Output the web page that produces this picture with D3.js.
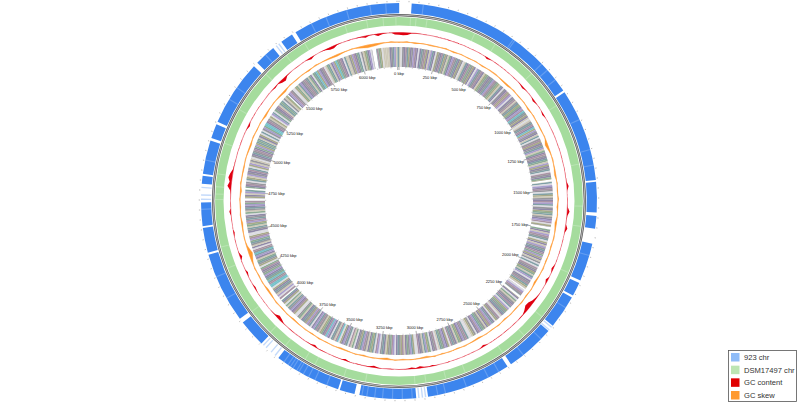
<!DOCTYPE html>
<html><head><meta charset="utf-8">
<script src="https://cdn.jsdelivr.net/npm/d3@7"></script>
<style>html,body{margin:0;background:#fff}svg{display:block}text{font-family:"Liberation Sans",Arial,sans-serif}</style>
</head><body><svg id="c" width="797" height="402"></svg>
<script>
const genomeKbp = 6260;
const tickLabels = [0,250,500,750,1000,1250,1500,1750,2000,2250,2500,2750,3000,3250,3500,3750,4000,4250,4500,4750,5000,5250,5500,5750,6000];
const legendNames = ["923 chr","DSM17497 chr","GC content","GC skew"];
const legendColors = ["#8fbcf8","#bce5b3","#e00000","#ff9a30"];
const blueSegments = [[64,974],[986,1458],[1468,1622],[1640,1704],[1782,1975],[1990,2060],[2072,2243],[2278,2530],[2552,2982],[3043,3330],[3356,3432],[3442,3782],[3895,4035],[4060,4420],[4432,4558],[4568,4687],[4782,4822],[4832,5003],[5018,5090],[5105,5440],[5465,5573],[5626,5690],[5712,6260]];
const blueFaintInGaps = [2992,3008,3026,3800,3826,3860,3878,4700,4722,4760,5590,5606,2250,2268];
const blueLight = [120,610,620,800,842,905,1140,1300,1380,1840,2130,2330,2450,2600,2660,2780,2890,2930,3060,3110,3160,3210,3250,3290,3315,3500,3565,3600,3630,3655,3668,3690,3705,3720,3745,4180,4300,4650,4900,5230,5300,5520,5800,5880,5990,6110,6190];
const greenLight = [60,90,150,420,545,800,1020,1360,1590,1700,1960,2240,2380,2530,2760,2870,2980,3040,3310,3430,3600,3660,3790,3900,4050,4320,4440,4700,4730,4770,4840,5010,5210,5450,5600,5720,5960,6080,6170,6240];
// GC content deviation, one value per 25 kbp
const gcContent = [
-3,-3.5,-3,-.6,-.5,.3,-.4,.2,-.3,.4,-.2,.3,-.6,.2,.4,-.3,.2,-.5,.3,.2,-.4,.3,-2,-.4,.3,
.2,-.3,.4,-.2,.3,-.4,.2,-.6,-2,-.4,.3,-.2,-2.2,-.6,.4,-.3,-2,-.3,.2,-.3,.2,.4,-.3,.2,-.4,
.3,-.2,.4,-.3,.2,-.4,.3,.2,.6,2.4,.3,-.2,.4,.2,.6,3.2,.8,.3,.2,2.8,.4,-.2,.4,-.3,.2,
.3,-.2,.4,-.5,-2.4,-.3,.2,-2.8,-.4,.3,-.2,-.6,-1.6,-3,-5.4,-6,-3,-.8,-.6,.2,-.4,.3,-.2,-.5,.3,
.2,-.6,.3,-.4,-2.4,-.4,.2,-.4,.3,-.6,.2,-.3,.4,-.5,-.3,.2,-.4,-1.6,-.6,-1.2,-2.6,-.8,-2.2,-.6,-.3,
-.4,.2,-.6,-.3,.2,-.8,-2.4,-.8,-.6,-.3,-.5,.2,-.4,-2.2,-.4,-.3,-.5,.2,-.3,-.6,-.4,-2.6,-.5,-.4,.2,
-.4,.3,-.3,-.6,.2,-.4,-2.6,-4,-1,-.5,.2,-.4,.3,-.3,.2,-.6,-1.6,-.3,.2,-.4,-2,.3,-.2,.4,-3,
-.8,.3,-.2,.4,-.3,-1.6,.3,-.2,.4,.2,2,-.4,-.4,.3,.4,1,5,2.6,5,3.4,.8,.4,.3,-.2,.3,
-.4,.2,.3,-.2,.4,-.5,-2.2,-.2,.3,-.4,.2,.3,-.5,.2,-.3,.4,-.3,-1.4,-.4,-3,-4.4,-1,-.5,.2,-.4,
-.3,.2,-.8,-2.4,-.4,.2,-.4,-1,-3,-3.2,-1,-.3,.2,-.4,.3,-.6,-.8,-2.4,-.6,-.4,-2.8,-1.2,-.4,.2,-2.6];
// GC skew deviation, one value per 50 kbp
const gcSkew = [
-.5,.6,-.9,.4,-.8,-.3,.7,-1.2,.4,-.7,.5,-1,.4,.7,-.8,-1.4,.6,-.6,.4,-1.2,.5,-.4,-.7,.4,-2.6,
-.8,.6,-.5,-1.4,.4,-.7,.7,-1.1,.4,-1.6,-.5,.6,-.8,.4,-.7,.7,-.4,-1.4,.4,-.8,.6,-.7,.4,-1,.7,
-.4,.4,-1.2,-.5,.6,-.8,.4,-.7,.7,-1.4,-.4,.4,-.8,.6,-1.6,-.5,.4,-1.1,.6,-.7,-1.2,.4,-.5,.6,-.8,
.4,-.4,-1.1,.4,-.7,.7,-1,-1.4,.4,-.7,.6,-1.2,-3.6,-1,.4,-.5,-1.2,.6,-.7,.4,-1.4,.7,-.4,-.8,.4,
-.7,-1.2,.6,-.5,.4,-1.4,-.4,.4,-.8,-1.6,.6,-.7,.4,-1,.7,-.4,-1.1,-1.6,-.5,.4,-1.2,-2.6,-2,-.5,.6];
// Genes around the chromosome by functional class; each row covers about a tenth of the circle
const geneClasses = [
"560142310741612043157216301423059174021306521490316720415390",
"102740935216014347610450239174820315650241837015260431027591",
"401295731026401935267140623501472601392501746302915740263157",
"021497315062640139527610423516740231695014267390215640361274",
"315092741603566240713951024631709256401693725014663270915430",
"216749035120674623915047230169546207136845026178419350427162",
"473021590663417025963120467502136884089217901496302951728046",
"150297436610259374201695021794663157299140623570142637505601",
"204197329251362607988140536726901452926053917406639527104025",
"916928371046592517389041625503741926053917607249365555102752"
].join("").split("");
const geneColors = {"0":"#97979d","1":"#8f88a8","2":"#80a0a6","3":"#a8aa88","4":"#aa93a5","5":"#cfcaba","6":"#dcdce2","7":"#a99dce","8":"#76c2ca","9":"#8cac94"};
// Gaps between annotated regions on the gene ring, in kbp
const geneGaps = [[6085,6110],[1425,1437],[1735,1752],[2170,2180],[2225,2240],[4700,4708],[4770,4780],[3995,4004],[5450,5458]];

const cx=399, cy=201, TAU=Math.PI*2;
const svg=d3.select("#c");
const g=svg.append("g").attr("transform",`translate(${cx},${cy})`);
const ang=d3.scaleLinear().domain([0,genomeKbp]).range([0,TAU]);
const arc=d3.arc();
const ring=(sel,r0,r1,a0,a1,fill,op)=>sel.append("path")
  .attr("d",arc({innerRadius:r0,outerRadius:r1,startAngle:a0,endAngle:a1}))
  .attr("fill",fill).attr("fill-opacity",op==null?1:op);

// outer ticks
const allTicks=d3.range(0,genomeKbp,50);
const pt=(k,r)=>[r*Math.sin(ang(k)),-r*Math.cos(ang(k))];
allTicks.forEach(k=>{const a=pt(k,199),b=pt(k,200.3);
  g.append("line").attr("x1",a[0]).attr("y1",a[1]).attr("x2",b[0]).attr("y2",b[1]).attr("stroke","#777").attr("stroke-width",.5);});

// query ring
const blueG=g.append("g");
blueSegments.forEach(s=>ring(blueG,187.8,198,ang(s[0]),ang(s[1])+.001,"#3c85ee"));
blueFaintInGaps.forEach(k=>ring(g,187.8,198,ang(k),ang(k+7),"#3c85ee",.3));
blueLight.forEach(k=>ring(g,187.8,198,ang(k),ang(k+6),"#fff",.2));

// backbone
ring(g,184.7,187,0,TAU,"#5a5a5a");
ring(g,185.4,186.3,0,TAU,"#b8b8b8");

// reference ring
ring(g,175.5,183.9,0,TAU,"#a5dc9d");
greenLight.forEach(k=>ring(g,175.5,183.9,ang(k),ang(k+6),"#fff",.22));

// GC content
const gcR=d3.scaleLinear().domain([-6,6]).range([164,173]);
const gcStep=genomeKbp/gcContent.length;
ring(g,168.1,168.9,0,TAU,"#ee8c98");
const gcArea=d3.areaRadial().angle((d,i)=>ang(i*gcStep)).innerRadius(gcR(0)).outerRadius(d=>gcR(d));
g.append("path").datum(gcContent.concat(gcContent[0])).attr("d",gcArea).attr("fill","#e00010");

// GC skew
const skR=d3.scaleLinear().domain([-6,6]).range([153,165]);
const skStep=genomeKbp/gcSkew.length;
ring(g,158.5,159.5,0,TAU,"#ffc48c");
const skArea=d3.areaRadial().angle((d,i)=>ang(i*skStep)).innerRadius(skR(0)).outerRadius(d=>skR(d));
g.append("path").datum(gcSkew.concat(gcSkew[0])).attr("d",skArea).attr("fill","#ff9a30").attr("stroke","#ff9a30").attr("stroke-width",.3);

// genes
const gStep=genomeKbp/geneClasses.length;
geneClasses.forEach((c,i)=>ring(g,134,154,ang(i*gStep),ang((i+1)*gStep)+.001,geneColors[c]));
geneGaps.forEach(s=>ring(g,133.5,154.5,ang(s[0]),ang(s[1]),"#fff"));

// inner ticks and labels
allTicks.forEach(k=>{const major=k%250===0;const a=pt(k,134),b=pt(k,major?131:132.8);
  g.append("line").attr("x1",a[0]).attr("y1",a[1]).attr("x2",b[0]).attr("y2",b[1]).attr("stroke",major?"#333":"#888").attr("stroke-width",.4);});
tickLabels.forEach(k=>{
  const s=Math.sin(ang(k)),c=Math.cos(ang(k));
  const t=g.append("text").text(k+" kbp").attr("font-size",4).attr("fill","#111").attr("text-anchor","middle");
  const w=t.node().getComputedTextLength();
  t.attr("x",131*s-s*w/2).attr("y",-130*c+c*2.5+1.4);
});

// legend
const lg=svg.append("g");
lg.append("rect").attr("x",728.5).attr("y",350.5).attr("width",68).attr("height",51).attr("fill","#fff").attr("stroke","#555").attr("stroke-width",.8);
const ly=d3.scalePoint().domain(legendNames).range([357,395]);
legendNames.forEach((n,i)=>{
  lg.append("rect").attr("x",731).attr("y",ly(n)-4).attr("width",8.5).attr("height",8.5).attr("fill",legendColors[i]);
  lg.append("text").text(n).attr("x",744).attr("y",ly(n)+3).attr("font-size",7.6).attr("fill","#333");
});
</script></body></html>
